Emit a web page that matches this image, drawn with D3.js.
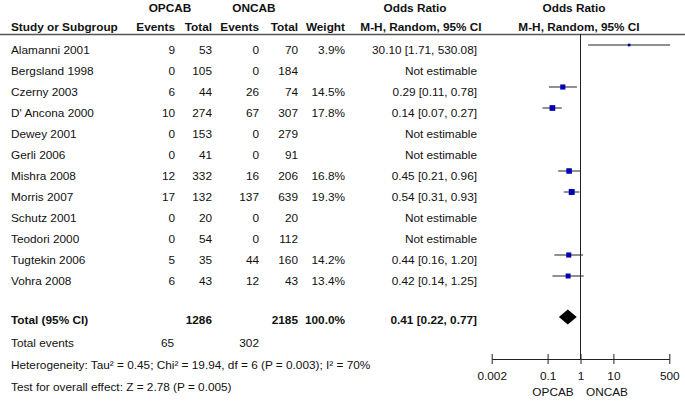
<!DOCTYPE html>
<html><head><meta charset="utf-8">
<script src="https://cdn.jsdelivr.net/npm/d3@7"></script>
<style>
html,body{margin:0;padding:0;background:#fff;}
svg text{font-family:"Liberation Sans",Arial,sans-serif;font-size:11.8px;fill:#111;}
</style></head>
<body>
<svg id="c" width="685" height="401"></svg>
<script>
const studies = ["Alamanni 2001","Bergsland 1998","Czerny 2003","D' Ancona 2000","Dewey 2001","Gerli 2006","Mishra 2008","Morris 2007","Schutz 2001","Teodori 2000","Tugtekin 2006","Vohra 2008"];
const opEvents = [9,0,6,10,0,0,12,17,0,0,5,6];
const opTotal  = [53,105,44,274,153,41,332,132,20,54,35,43];
const onEvents = [0,0,26,67,0,0,16,137,0,0,44,12];
const onTotal  = [70,184,74,307,279,91,206,639,20,112,160,43];
const weights  = [3.9,null,14.5,17.8,null,null,16.8,19.3,null,null,14.2,13.4];
const oddsRatio= [30.10,null,0.29,0.14,null,null,0.45,0.54,null,null,0.44,0.42];
const ciLow    = [1.71,null,0.11,0.07,null,null,0.21,0.31,null,null,0.16,0.14];
const ciHigh   = [530.08,null,0.78,0.27,null,null,0.96,0.93,null,null,1.20,1.25];
const totalRow = {label:"Total (95% CI)", opTotal:1286, onTotal:2185, weight:"100.0%", or:0.41, lo:0.22, hi:0.77};
const totalEvents = {op:65, on:302};
const heterogeneity = "Heterogeneity: Tau\u00b2 = 0.45; Chi\u00b2 = 19.94, df = 6 (P = 0.003); I\u00b2 = 70%";
const overallTest = "Test for overall effect: Z = 2.78 (P = 0.005)";
const tickValues = [0.002,0.1,1,10,500];
const tickLabels = ["0.002","0.1","1","10","500"];
const favourLabels = ["OPCAB","ONCAB"];

const svg = d3.select("#c");
const x = d3.scaleLog().domain([0.002,500]).range([491.7,669.3]);
const rowY = d3.scaleLinear().domain([0,1]).range([50,71]);

const col = {name:11, opE:175, opT:212, onE:259, onT:298, w:345, orR:477, orC:419, plotC:578};

function txt(xp, yp, s, anchor, bold){
  return svg.append("text").attr("x",xp).attr("y",yp).attr("dy","0.35em")
    .attr("text-anchor",anchor||"start").style("font-weight",bold?"bold":"normal").text(s);
}

// headers
txt(170,8,"OPCAB","middle",true);
txt(254,8,"ONCAB","middle",true);
txt(415,8,"Odds Ratio","middle",true);
txt(574,8,"Odds Ratio","middle",true);
txt(col.name,27,"Study or Subgroup","start",true);
txt(col.opE,27,"Events","end",true);
txt(col.opT,27,"Total","end",true);
txt(col.onE,27,"Events","end",true);
txt(col.onT,27,"Total","end",true);
txt(col.w,27,"Weight","end",true);
txt(col.orC+2,27,"M-H, Random, 95% CI","middle",true);
txt(col.plotC+1,27,"M-H, Random, 95% CI","middle",true);
svg.append("line").attr("x1",0).attr("x2",685).attr("y1",34.5).attr("y2",34.5)
  .attr("stroke","#555").attr("stroke-width",1.5);

// study rows
studies.forEach((s,i)=>{
  const y = rowY(i);
  txt(col.name,y,s);
  txt(col.opE,y,opEvents[i],"end");
  txt(col.opT,y,opTotal[i],"end");
  txt(col.onE,y,onEvents[i],"end");
  txt(col.onT,y,onTotal[i],"end");
  if(weights[i]!=null){
    txt(col.w,y,weights[i].toFixed(1)+"%","end");
    txt(col.orR,y,oddsRatio[i].toFixed(2)+" ["+ciLow[i].toFixed(2)+", "+ciHigh[i].toFixed(2)+"]","end");
  } else {
    txt(col.orR,y,"Not estimable","end");
  }
});

// vertical line of no effect
svg.append("line").attr("x1",x(1)).attr("x2",x(1)).attr("y1",34).attr("y2",359)
  .attr("stroke","#222").attr("stroke-width",1);

// CI lines and squares
studies.forEach((s,i)=>{
  if(weights[i]==null) return;
  const y = rowY(i)-5;
  svg.append("line").attr("x1",x(ciLow[i])).attr("x2",x(ciHigh[i])).attr("y1",y).attr("y2",y)
    .attr("stroke","#222").attr("stroke-width",1);
  const sz = Math.sqrt(weights[i])*1.35;
  svg.append("rect").attr("x",x(oddsRatio[i])-sz/2).attr("y",y-sz/2).attr("width",sz).attr("height",sz)
    .attr("fill","#0000b4");
});

// total row
const ty = 320;
txt(col.name,ty,totalRow.label,"start",true);
txt(col.opT,ty,totalRow.opTotal,"end",true);
txt(col.onT,ty,totalRow.onTotal,"end",true);
txt(col.w,ty,totalRow.weight,"end",true);
txt(col.orR,ty,totalRow.or.toFixed(2)+" ["+totalRow.lo.toFixed(2)+", "+totalRow.hi.toFixed(2)+"]","end",true);
const dy = 317, dh = 7.5;
svg.append("path").attr("d",`M${x(totalRow.lo)},${dy} L${x(totalRow.or)},${dy-dh} L${x(totalRow.hi)},${dy} L${x(totalRow.or)},${dy+dh} Z`)
  .attr("fill","#000");

txt(col.name,342.5,"Total events");
txt(col.opE-1,342.5,totalEvents.op,"end");
txt(col.onE,342.5,totalEvents.on,"end");
txt(col.name,364.5,heterogeneity);
txt(col.name,386.5,overallTest);

// axis
const axis = d3.axisBottom(x).tickValues(tickValues).tickFormat((d,i)=>tickLabels[i])
  .tickSizeInner(5).tickSizeOuter(0).tickPadding(8);
const ag = svg.append("g").attr("transform","translate(0,359)").call(axis);
ag.select(".domain").attr("stroke","#222");
ag.selectAll(".tick line").attr("y1",-5).attr("y2",5).attr("stroke","#222");
ag.selectAll(".tick text").attr("font-family",null).attr("font-size",null).style("fill","#111");
ag.attr("font-family",null).attr("font-size",null);

txt(553,392,favourLabels[0],"middle");
txt(607,392,favourLabels[1],"middle");
</script>
</body></html>
